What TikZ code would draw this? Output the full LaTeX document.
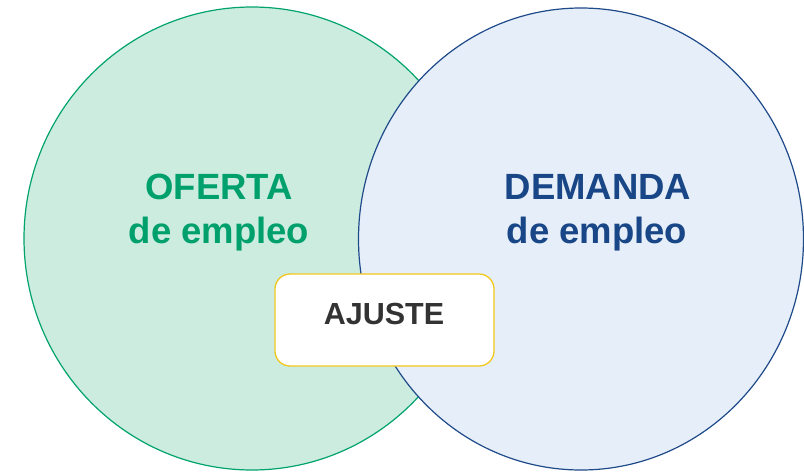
\documentclass[tikz,border=0pt]{standalone}
\usepackage{fontspec}
\setmainfont{Liberation Sans}
\definecolor{grnline}{RGB}{0,163,108}
\definecolor{grnfill}{RGB}{204,236,224}
\definecolor{grntext}{RGB}{0,160,108}
\definecolor{bluline}{RGB}{31,74,138}
\definecolor{blufill}{RGB}{230,239,249}
\definecolor{blutext}{RGB}{24,70,134}
\definecolor{boxline}{RGB}{242,200,30}
\definecolor{boxtext}{RGB}{51,51,51}
\begin{document}
\begin{tikzpicture}[x=1pt,y=-1pt,
  lbl/.style={anchor=base,font=\bfseries\fontsize{36.5}{36.5}\selectfont,inner sep=0pt},
  boxstyle/.style={draw=boxline,line width=1.3pt,fill=white,rounded corners=15pt,minimum width=219pt,minimum height=92pt}]
\useasboundingbox (0,0) rectangle (804,472);
\path[draw=grnline,fill=grnfill,line width=1.2pt] (252,238.5) ellipse [x radius=228, y radius=231.5];
\path[draw=bluline,fill=blufill,line width=1.2pt] (581,239) ellipse [x radius=222.5, y radius=231];
\node[lbl,text=grntext] (of1) at (219,199) {OFERTA};
\node[lbl,text=grntext] (of2) at (219,243) {de empleo};
\node[lbl,text=blutext] (de1) at (598,199) {DEMANDA};
\node[lbl,text=blutext] (de2) at (597,243) {de empleo};
\node[boxstyle] (aj) at (384.5,320) {};
\node[anchor=base,inner sep=0pt,text=boxtext,font=\bfseries\fontsize{30.5}{30.5}\selectfont] (ajt) at (384,324) {AJUSTE};
\end{tikzpicture}
\end{document}
